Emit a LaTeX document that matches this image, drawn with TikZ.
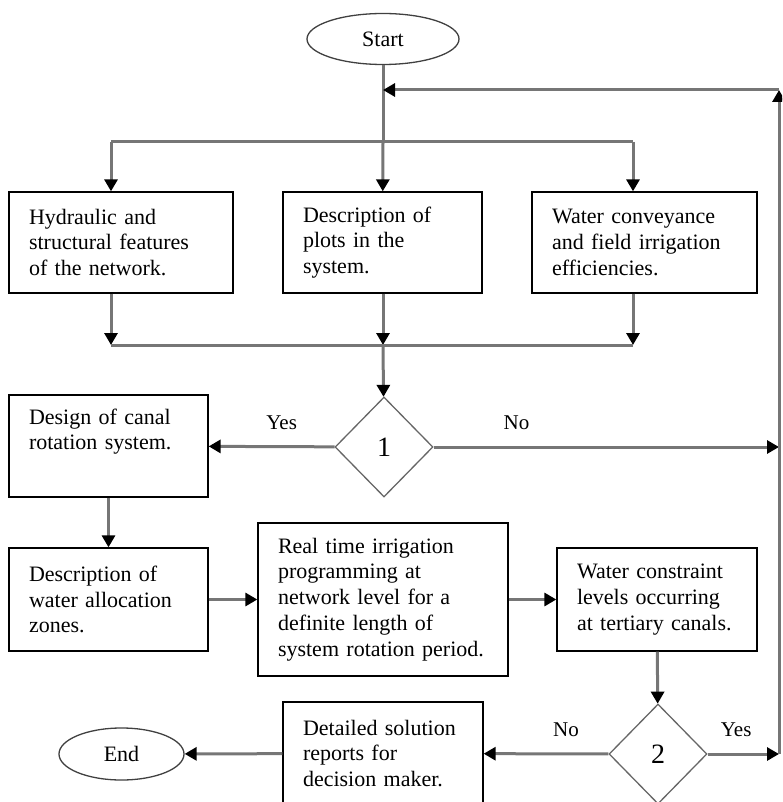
\documentclass[tikz,border=0pt]{standalone}
\usepackage{fontspec}
\setmainfont{Liberation Serif}
\usepackage{tikz}
\usetikzlibrary{arrows.meta, positioning, calc, shapes.geometric}
\definecolor{linegray}{RGB}{118,118,118}
\newcommand{\boxfont}{\fontsize{22}{25.8}\selectfont}

\begin{document}
\begin{tikzpicture}[x=1pt, y=-1pt,
    box/.style={draw, line width=1.3pt, align=left, inner xsep=20pt, inner ysep=0pt, font=\boxfont},
    term/.style={ellipse, draw=black!75, line width=1.3pt, inner sep=0pt, font=\boxfont},
    decision/.style={diamond, draw=black!60, line width=1.3pt, inner sep=0pt, minimum width=98pt, minimum height=100pt, font=\fontsize{28}{30}\selectfont},
    lbl/.style={font=\fontsize{21}{22}\selectfont, yshift=24pt},
    flow/.style={draw=linegray, line width=3pt},
    arr/.style={flow, -{Triangle[length=12pt, width=13pt, color=black]}}]
    \useasboundingbox (0,0) rectangle (782,802);
    \clip (0,0) rectangle (782,802);

    \node[term, minimum width=152pt, minimum height=51pt] (start) at (383,39) {Start};

    \node[box, text width=184pt, minimum height=101pt] (hyd) at (121,242.5) {Hydraulic and\\ structural features\\ of the network.};
    \node[box, text width=159pt, minimum height=101pt] (plots) at (382.5,242.5) {Description of\\ plots in the\\ system.};
    \node[box, text width=185pt, minimum height=101pt] (eff) at (644.5,242.5) {Water conveyance\\ and field irrigation\\ efficiencies.};

    \node[decision] (dec1) at (384,447) {1};
    \node[box, text width=159pt, minimum height=102pt] (design) at (108.5,446) {Design of canal\\ rotation system.\\ \strut};

    \node[box, text width=159pt, minimum height=103pt] (zones) at (108.5,599.5) {Description of\\ water allocation\\ zones.};
    \node[box, text width=210pt, minimum height=153pt] (prog) at (383,599.5) {Real time irrigation\\ programming at\\ network level for a\\ definite length of\\ system rotation period.};
    \node[box, text width=160pt, minimum height=103pt] (constr) at (657,599.5) {Water constraint\\ levels occurring\\ at tertiary canals.};

    \node[decision] (dec2) at (658,754) {2};
    \node[box, text width=160pt, minimum height=103pt] (report) at (383,753.5) {\mbox{Detailed solution}\\ reports for\\ decision maker.};
    \node[term, minimum width=125pt, minimum height=52pt] (end) at (121.5,754) {End};

    \coordinate (back) at (383,90);
    \coordinate (split) at (383,142);
    \coordinate (brL) at (111,142);
    \coordinate (brR) at (633,142);
    \coordinate (mgL) at (111,345);
    \coordinate (mgR) at (633,345);
    \coordinate (join) at (383,345);
    \coordinate (rtop) at (779,90);
    \coordinate (rmid) at (779,447);
    \coordinate (rbot) at (779,754);

    \draw[flow] (start) -- (split);
    \draw[flow] (brL) -- (brR);
    \draw[arr] (brL) -- (brL |- hyd.north);
    \draw[arr] (split) -- (plots);
    \draw[arr] (brR) -- (brR |- eff.north);

    \draw[arr] (hyd.south -| mgL) -- (mgL);
    \draw[arr] (plots.south -| join) -- (join);
    \draw[arr] (eff.south -| mgR) -- (mgR);
    \draw[flow] (mgL) -- (mgR);
    \draw[arr] (join) -- (dec1);

    \draw[arr] (dec1) -- (design) node[lbl, pos=.42] {Yes};
    \draw[arr] (dec1) -- (rmid) node[lbl, pos=.24] {No};
    \draw[arr] (design) -- (zones);
    \draw[arr] (zones) -- (prog);
    \draw[arr] (prog) -- (constr);
    \draw[arr] (constr) -- (dec2);
    \draw[arr] (dec2) -- (report) node[lbl, pos=.34] {No};
    \draw[arr] (dec2) -- (rbot) node[lbl, pos=.4] {Yes};
    \draw[arr] (report) -- (end);

    \draw[arr] (rbot) -- (rtop);
    \draw[arr] (rtop) -- (back);
\end{tikzpicture}
\end{document}
